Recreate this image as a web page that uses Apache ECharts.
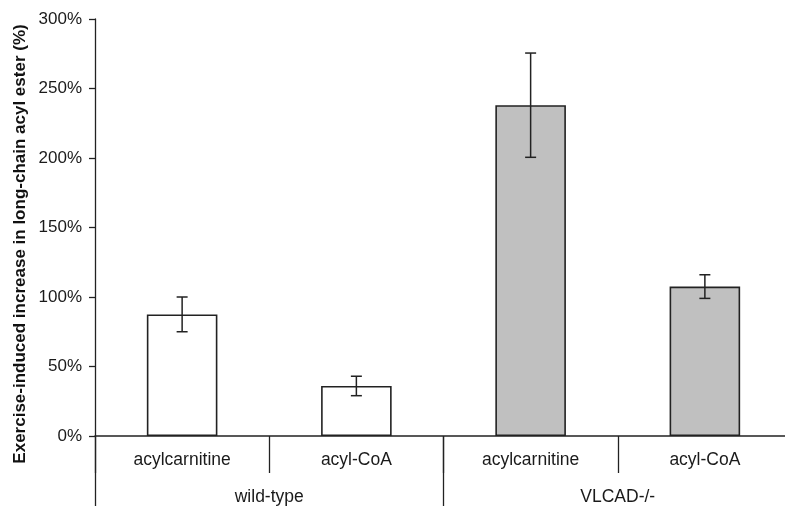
<!DOCTYPE html>
<html>
<head>
<meta charset="utf-8">
<script src="https://cdn.jsdelivr.net/npm/echarts@6/dist/echarts.min.js"></script>
<style>html,body{margin:0;padding:0;background:#fff;overflow:hidden;width:785px;height:506px;}#c{width:792px;height:506px;}</style>
</head>
<body>
<div id="c"></div>
<script>
var categories = ['acylcarnitine', 'acyl-CoA', 'acylcarnitine', 'acyl-CoA'];
var groups = ['wild-type', 'VLCAD-/-'];
var means = [87.5, 36, 238, 107.5];
var errors = [12.5, 7, 37.5, 8.5];
var barColors = ['#ffffff', '#ffffff', '#c0c0c0', '#c0c0c0'];
var yTicks = [0, 50, 100, 150, 200, 250, 300];

var chart = echarts.init(document.getElementById('c'));
var font = 'Liberation Sans, Arial, sans-serif';
var lineColor = '#222';

chart.setOption({
  animation: false,
  grid: { left: 95, top: 19, right: 0, bottom: 70, containLabel: false },
  xAxis: [
    {
      type: 'category', data: categories, position: 'bottom',
      axisLine: { show: true, lineStyle: { color: lineColor, width: 1.5 } },
      axisTick: { show: true, length: 37, lineStyle: { color: lineColor, width: 1.3 } },
      axisLabel: { color: '#1a1a1a', fontSize: 17.5, fontFamily: font, margin: 15 }
    },
    {
      type: 'category', data: groups, position: 'bottom',
      axisLine: { show: false },
      axisTick: { show: true, length: 80, lineStyle: { color: lineColor, width: 1.3 } },
      axisLabel: { color: '#1a1a1a', fontSize: 17.5, fontFamily: font, margin: 52 }
    }
  ],
  yAxis: {
    type: 'value', min: yTicks[0], max: yTicks[yTicks.length - 1], interval: 50,
    axisLine: { show: true, lineStyle: { color: lineColor, width: 1.3 } },
    axisTick: { show: true, length: 6, lineStyle: { color: lineColor, width: 1.3 } },
    splitLine: { show: false },
    axisLabel: { formatter: '{value}%', color: '#1a1a1a', fontSize: 17, fontFamily: font, margin: 13 }
  },
  graphic: [{
    type: 'text',
    x: 20, y: 244, rotation: Math.PI / 2,
    style: {
      text: 'Exercise-induced increase in long-chain acyl ester (%)',
      font: 'bold 17px ' + font, fill: '#111',
      align: 'center', verticalAlign: 'middle'
    }
  }],
  series: [
    {
      type: 'bar', xAxisIndex: 0, barWidth: '40.5%',
      data: means.map(function (v, i) {
        return { value: v, itemStyle: { color: barColors[i], borderColor: lineColor, borderWidth: 1.6 } };
      })
    },
    {
      type: 'custom', xAxisIndex: 0,
      data: means.map(function (v, i) { return [i, v - errors[i], v + errors[i]]; }),
      renderItem: function (params, api) {
        var x = api.value(0);
        var lo = api.coord([x, api.value(1)]);
        var hi = api.coord([x, api.value(2)]);
        var w = 5.5;
        var st = { stroke: lineColor, lineWidth: 1.5 };
        return {
          type: 'group', children: [
            { type: 'line', shape: { x1: hi[0], y1: hi[1], x2: lo[0], y2: lo[1] }, style: st },
            { type: 'line', shape: { x1: hi[0] - w, y1: hi[1], x2: hi[0] + w, y2: hi[1] }, style: st },
            { type: 'line', shape: { x1: lo[0] - w, y1: lo[1], x2: lo[0] + w, y2: lo[1] }, style: st }
          ]
        };
      },
      z: 10
    }
  ]
});
</script>
</body>
</html>
